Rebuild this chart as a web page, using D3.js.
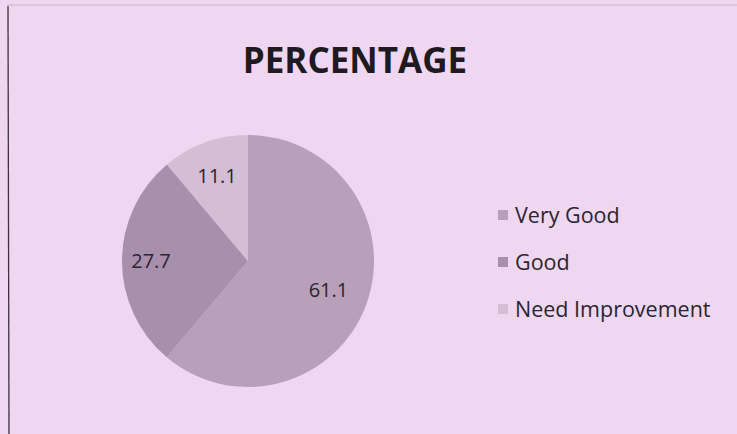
<!DOCTYPE html>
<html>
<head>
<meta charset="utf-8">
<script src="https://cdn.jsdelivr.net/npm/d3@7"></script>
<style>
  html, body { margin: 0; padding: 0; background: #efd7f1; }
  svg { display: block; }
</style>
</head>
<body>
<svg id="chart"></svg>
<script>
// chart data
const categories = ['Very Good', 'Good', 'Need Improvement'];
const values = [61.1, 27.7, 11.1];
const labels = ['61.1', '27.7', '11.1'];
const sliceColors = ['#b8a0bb', '#a88fac', '#d3bed6'];

const width = 737;
const height = 434;
const svg = d3.select('#chart').attr('width', width).attr('height', height);

svg.append('rect')
  .attr('width', width).attr('height', height)
  .attr('fill', '#efd7f1');

// faint frame: top edge and darker left edge
svg.append('line')
  .attr('x1', 7).attr('x2', width).attr('y1', 5).attr('y2', 5)
  .attr('stroke', '#c7b4ca').attr('stroke-width', 1);
svg.append('line')
  .attr('x1', 8).attr('x2', 9).attr('y1', 6).attr('y2', height)
  .attr('stroke', '#3e3042').attr('stroke-width', 1.3);

svg.append('text')
  .attr('x', 355).attr('y', 73)
  .attr('text-anchor', 'middle')
  .attr('font-family', 'Open Sans, sans-serif')
  .attr('font-weight', 'bold')
  .attr('font-size', 35)
  .attr('fill', '#1e1a20')
  .text('PERCENTAGE');

const cx = 248, cy = 261, radius = 126;

const pie = d3.pie().sort(null).value(d => d)(values);
const arc = d3.arc().innerRadius(0).outerRadius(radius);

const g = svg.append('g').attr('transform', `translate(${cx},${cy})`);
g.selectAll('path')
  .data(pie)
  .join('path')
  .attr('d', arc)
  .attr('fill', (d, i) => sliceColors[i]);

const labelRadius = [0.68, 0.77, 0.72];
g.selectAll('text')
  .data(pie)
  .join('text')
  .attr('transform', (d, i) => {
    const a = (d.startAngle + d.endAngle) / 2;
    const r = radius * labelRadius[i];
    return `translate(${Math.sin(a) * r},${-Math.cos(a) * r})`;
  })
  .attr('text-anchor', 'middle')
  .attr('dy', '0.35em')
  .attr('font-family', 'Open Sans, sans-serif')
  .attr('font-size', 20)
  .attr('fill', '#2a2530')
  .text((d, i) => labels[i]);

const legend = svg.append('g').attr('transform', 'translate(498,215)');
const rows = legend.selectAll('g')
  .data(categories)
  .join('g')
  .attr('transform', (d, i) => `translate(0,${i * 47})`);
rows.append('rect')
  .attr('x', 0).attr('y', -5).attr('width', 10).attr('height', 10)
  .attr('fill', (d, i) => sliceColors[i]);
rows.append('text')
  .attr('x', 17).attr('dy', '0.35em')
  .attr('font-family', 'Open Sans, sans-serif')
  .attr('font-size', 21.5)
  .attr('fill', '#2a2530')
  .text(d => d);
</script>
</body>
</html>
